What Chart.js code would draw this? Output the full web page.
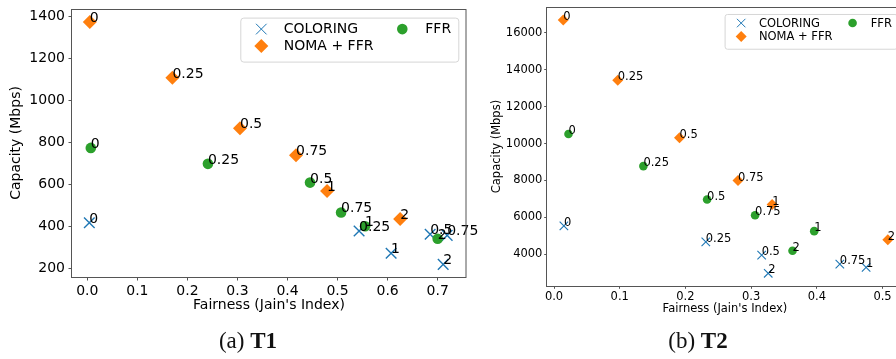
<!DOCTYPE html>
<html><head><meta charset="utf-8">
<script src="https://cdn.jsdelivr.net/npm/chart.js@4.4.1/dist/chart.umd.min.js"></script>
<style>
html,body{margin:0;padding:0;background:#fff;width:896px;height:359px;overflow:hidden;position:relative;}
.box{position:absolute;top:0;}
.cap{position:absolute;top:329px;font-family:"Liberation Serif","DejaVu Serif",serif;font-size:23px;line-height:23px;color:#111;white-space:nowrap;transform:translateX(-50%);}
</style></head><body>
<div class="box" style="left:0;width:480px;height:330px"><canvas id="c1" width="480" height="330"></canvas></div>
<div class="box" style="left:470px;width:440px;height:330px"><canvas id="c2" width="440" height="330"></canvas></div>
<div class="cap" style="left:248px">(a) <b>T1</b></div>
<div class="cap" style="left:698px">(b) <b>T2</b></div>
<script>
// ---- data ----
const paramLabels = ['0', '0.25', '0.5', '0.75', '1', '2'];
const seriesNames = ['COLORING', 'NOMA + FFR', 'FFR'];

// (a) T1
const t1ColoringX = [0.004, 0.543, 0.685, 0.719, 0.607, 0.711];
const t1ColoringY = [417, 378, 362, 357, 272, 219];
const t1NomaX = [0.005, 0.170, 0.305, 0.417, 0.479, 0.625];
const t1NomaY = [1372, 1106, 866, 738, 568, 435];
const t1FfrX = [0.007, 0.241, 0.445, 0.507, 0.555, 0.700];
const t1FfrY = [773, 697, 608, 466, 400, 341];
const t1XTicks = [0.0, 0.1, 0.2, 0.3, 0.4, 0.5, 0.6, 0.7];
const t1YTicks = [200, 400, 600, 800, 1000, 1200, 1400];

// (b) T2
const t2ColoringX = [0.015, 0.231, 0.316, 0.435, 0.475, 0.326];
const t2ColoringY = [5540, 4680, 3960, 3480, 3300, 2980];
const t2NomaX = [0.014, 0.097, 0.191, 0.280, 0.332, 0.508];
const t2NomaY = [16690, 13430, 10310, 8000, 6700, 4800];
const t2FfrX = [0.022, 0.136, 0.233, 0.306, 0.396, 0.363];
const t2FfrY = [10520, 8780, 6970, 6120, 5260, 4200];
const t2XTicks = [0.0, 0.1, 0.2, 0.3, 0.4, 0.5];
const t2YTicks = [4000, 6000, 8000, 10000, 12000, 14000, 16000];

// ---- helpers ----
Chart.defaults.font.family = "'DejaVu Sans', sans-serif";
Chart.defaults.color = '#000';

const pts = (xs, ys) => xs.map((x, i) => ({x, y: ys[i]}));

function makeChart(id, d, st) {
  const datasets = [
    {label: seriesNames[0], data: pts(d.cx, d.cy), pointStyle: 'crossRot', pointRadius: st.xr,
     borderColor: '#1f77b4', backgroundColor: '#1f77b4', pointBorderWidth: st.xw, order: 3},
    {label: seriesNames[1], data: pts(d.nx, d.ny), pointStyle: 'rectRot', pointRadius: st.dr,
     borderColor: '#ff7f0e', backgroundColor: '#ff7f0e', pointBorderWidth: 0, order: 2},
    {label: seriesNames[2], data: pts(d.fx, d.fy), pointStyle: 'circle', pointRadius: st.cr,
     borderColor: '#2ca02c', backgroundColor: '#2ca02c', pointBorderWidth: 0, order: 1},
  ];
  const s = st.s;
  const framePlugin = {
    id: 'frame',
    afterDatasetsDraw(chart) {
      const {ctx, chartArea: a} = chart;
      ctx.save();
      // point annotations
      ctx.fillStyle = '#000';
      ctx.font = st.fs + "px 'DejaVu Sans'";
      ctx.textAlign = 'left';
      ctx.textBaseline = 'alphabetic';
      [0, 1, 2].forEach(i => {
        chart.getDatasetMeta(i).data.forEach((p, j) => ctx.fillText(paramLabels[j], p.x, p.y));
      });
      // frame
      ctx.strokeStyle = '#555';
      ctx.lineWidth = 1;
      ctx.strokeRect(Math.round(a.left) - 0.5, Math.round(a.top) + 0.5, Math.round(a.right - a.left) + 0.5, Math.round(a.bottom - a.top));
      // legend
      const w = 218 * s, h = 44 * s;
      const bx = a.right - 7.7 * s - w, by = a.top + 8.7 * s;
      ctx.beginPath();
      ctx.roundRect(bx + 0.5, by + 0.5, w, h, 3 * s);
      ctx.fillStyle = 'rgba(255,255,255,0.8)';
      ctx.fill();
      ctx.strokeStyle = '#d6d6d6';
      ctx.stroke();
      const slots = [[21, 11.5, 43.5], [21, 28.5, 43.5], [162, 11.5, 185]];
      [0, 1, 2].forEach((di, k) => {
        const ds = datasets[di];
        const [mx, my, tx] = slots[k];
        ctx.fillStyle = ds.backgroundColor;
        ctx.strokeStyle = ds.borderColor;
        Chart.helpers.drawPoint(ctx, {pointStyle: ds.pointStyle, radius: ds.pointRadius, borderWidth: ds.pointBorderWidth, rotation: 0}, bx + mx * s, by + my * s);
        ctx.fillStyle = '#000';
        ctx.textBaseline = 'middle';
        ctx.fillText(ds.label, bx + tx * s, by + my * s + 0.5);
      });
      ctx.restore();
    }
  };
  const fixY = sc => { sc.width = st.yw; sc.paddingTop = 0; sc.paddingBottom = 0; };
  const fixX = sc => { sc.height = st.xh; sc.paddingLeft = 0; sc.paddingRight = 0; };
  return new Chart(document.getElementById(id), {
    type: 'scatter',
    data: {datasets},
    plugins: [framePlugin],
    options: {
      responsive: false,
      animation: false,
      layout: {padding: {top: 6, right: st.padR, left: 0, bottom: 0}},
      plugins: {legend: {display: false}, tooltip: {enabled: false}},
      scales: {
        x: {
          type: 'linear', min: d.xmin, max: d.xmax,
          afterBuildTicks: sc => { sc.ticks = d.xt.map(v => ({value: v})); },
          afterFit: fixX,
          ticks: {font: {size: st.fs}, padding: st.xpad, callback: v => Number(v).toFixed(1), maxRotation: 0, autoSkip: false},
          grid: {display: true, drawOnChartArea: false, drawTicks: true, tickLength: st.tl, tickColor: '#555'},
          border: {display: false},
          title: {display: true, text: "Fairness (Jain's Index)", font: {size: st.fs}, padding: {top: 0, bottom: st.xtp}}
        },
        y: {
          type: 'linear', min: d.ymin, max: d.ymax,
          afterBuildTicks: sc => { sc.ticks = d.yt.map(v => ({value: v})); },
          afterFit: fixY,
          ticks: {font: {size: st.fs}, padding: st.ypad, callback: v => String(v), autoSkip: false},
          grid: {display: true, drawOnChartArea: false, drawTicks: true, tickLength: st.tl, tickColor: '#555'},
          border: {display: false},
          title: {display: true, text: 'Capacity (Mbps)', font: {size: st.fs}, padding: {top: st.ytp, bottom: 0}}
        }
      }
    }
  });
}

makeChart('c1',
  {cx: t1ColoringX, cy: t1ColoringY, nx: t1NomaX, ny: t1NomaY, fx: t1FfrX, fy: t1FfrY,
   xt: t1XTicks, yt: t1YTicks, xmin: -0.0306, xmax: 0.7566, ymin: 159, ymax: 1434},
  {s: 1, fs: 14, xr: 7.5, xw: 1.4, dr: 7, cr: 5.3, yw: 72, xh: 53, padR: 14, tl: 3.5, xpad: 2, ypad: 3.5, xtp: 16, ytp: 7.6});

makeChart('c2',
  {cx: t2ColoringX, cy: t2ColoringY, nx: t2NomaX, ny: t2NomaY, fx: t2FfrX, fy: t2FfrY,
   xt: t2XTicks, yt: t2YTicks, xmin: -0.0107, xmax: 0.531, ymin: 2291, ymax: 17385},
  {s: 0.79, fs: 11.5, xr: 6, xw: 1.1, dr: 5.5, cr: 4.3, yw: 77, xh: 44, padR: 7, tl: 2.8, xpad: 1.5, ypad: 1.8, xtp: 14, ytp: 19.8});
</script>
</body></html>
